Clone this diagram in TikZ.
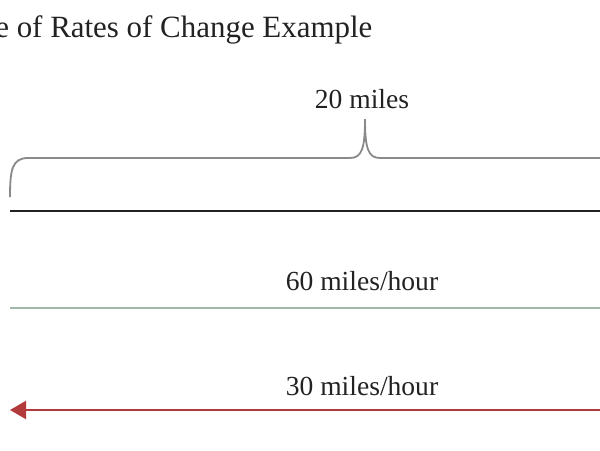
\documentclass[tikz,border=0pt]{standalone}
\usepackage{fontspec}
\setmainfont{Liberation Serif}
\usepackage{tikz}
\usetikzlibrary{arrows.meta, positioning, calc}
\definecolor{ratedark}{HTML}{222222}
\definecolor{rategray}{HTML}{8A8A8A}
\definecolor{rategreen}{HTML}{A2B8AA}
\definecolor{ratered}{HTML}{B23A3A}

\begin{document}
\begin{tikzpicture}[
    x=0.025cm, y=-0.025cm,
    lbl/.style={anchor=base, inner sep=0pt, font=\fontsize{19.6}{22}\selectfont, text=ratedark},
    track/.style={line width=1.5pt},
  ]
    \useasboundingbox (0,0) rectangle (600,450);
    \clip (0,0) rectangle (600,450);
    \node[anchor=base west, inner sep=0pt, font=\fontsize{22}{26}\selectfont, text=ratedark] (title) at (-5,37) {e of Rates of Change Example};
    % distance
    \coordinate (bl) at (10,197);
    \coordinate (br) at (720,197);
    \coordinate (tip) at (365,119);
    \draw[rategray, line width=1.3pt] (bl) .. controls (10,170) and (12,158) .. (28,158) -- (350,158)
      .. controls (362,158) and (365,148) .. (tip) .. controls (365,148) and (368,158) .. (380,158)
      -- (702,158) .. controls (718,158) and (720,170) .. (br);
    \node[lbl] (dist) at (362,108) {20 miles};
    \coordinate (a0) at (10,211);
    \coordinate (a1) at (720,211);
    \draw[ratedark, track] (a0) -- (a1);
    % rates
    \coordinate (g0) at (10,308);
    \coordinate (g1) at (720,308);
    \draw[rategreen, track] (g0) -- (g1);
    \node[lbl] (fast) at (362,290) {60 miles/hour};
    \coordinate (r0) at (10,410);
    \coordinate (r1) at (720,410);
    \draw[ratered, track, -{Triangle[length=0.4cm, width=0.45cm]}] (r1) -- (r0);
    \node[lbl] (slow) at (362,395) {30 miles/hour};
  \end{tikzpicture}
\end{document}
